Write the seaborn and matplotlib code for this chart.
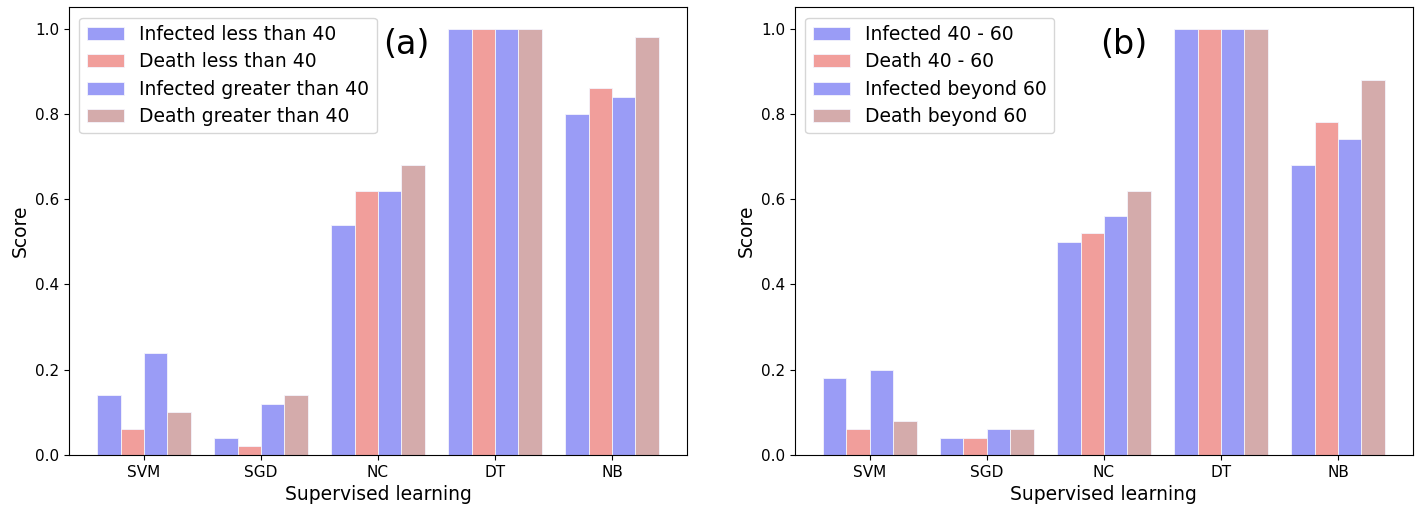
import matplotlib
matplotlib.use("Agg")
import matplotlib.pyplot as plt
import seaborn as sns
import pandas as pd

methods = ["SVM", "SGD", "NC", "DT", "NB"]

labels_a = ["Infected less than 40", "Death less than 40",
            "Infected greater than 40", "Death greater than 40"]
inf_lt40 = [0.14, 0.04, 0.54, 1.00, 0.80]
death_lt40 = [0.06, 0.02, 0.62, 1.00, 0.86]
inf_gt40 = [0.24, 0.12, 0.62, 1.00, 0.84]
death_gt40 = [0.10, 0.14, 0.68, 1.00, 0.98]

labels_b = ["Infected 40 - 60", "Death 40 - 60",
            "Infected beyond 60", "Death beyond 60"]
inf_40_60 = [0.18, 0.04, 0.50, 1.00, 0.68]
death_40_60 = [0.06, 0.04, 0.52, 1.00, 0.78]
inf_gt60 = [0.20, 0.06, 0.56, 1.00, 0.74]
death_gt60 = [0.08, 0.06, 0.62, 1.00, 0.88]

series_colors = ["#9a9cf6", "#f19e9b", "#9a9cf6", "#d4abab"]


def long_df(labels, series):
    rows = []
    for lab, vals in zip(labels, series):
        for m, v in zip(methods, vals):
            rows.append({"method": m, "group": lab, "score": v})
    return pd.DataFrame(rows)


fig = plt.figure(figsize=(14.17, 5.08), dpi=100)
ax1 = fig.add_axes([0.0487, 0.1043, 0.4361, 0.8813])
ax2 = fig.add_axes([0.5610, 0.1043, 0.4361, 0.8813])

panels = [
    (ax1, labels_a, [inf_lt40, death_lt40, inf_gt40, death_gt40], "(a)", 0.546),
    (ax2, labels_b, [inf_40_60, death_40_60, inf_gt60, death_gt60], "(b)", 0.532),
]

for ax, labels, series, tag, tx in panels:
    df = long_df(labels, series)
    pal = dict(zip(labels, series_colors))
    sns.barplot(data=df, x="method", y="score", hue="group", order=methods,
                hue_order=labels, palette=pal, saturation=1,
                width=0.8, edgecolor="#f4f4fc", linewidth=0.6, ax=ax,
                errorbar=None)
    ax.set_xlim(-0.64, 4.64)
    ax.set_ylim(0, 1.05)
    ax.set_yticks([0.0, 0.2, 0.4, 0.6, 0.8, 1.0])
    ax.set_yticklabels(["0.0", "0.2", "0.4", "0.6", "0.8", "1.0"])
    ax.tick_params(labelsize=11)
    ax.set_xlabel("Supervised learning", fontsize=13.5)
    ax.set_ylabel("Score", fontsize=13.5)
    ax.legend(loc="upper left", fontsize=13.5, labelspacing=0.44,
              borderaxespad=0.55)
    ax.text(tx, 0.918, tag, transform=ax.transAxes, fontsize=24,
            ha="center", va="center")

fig.savefig("out.png", dpi=100)
